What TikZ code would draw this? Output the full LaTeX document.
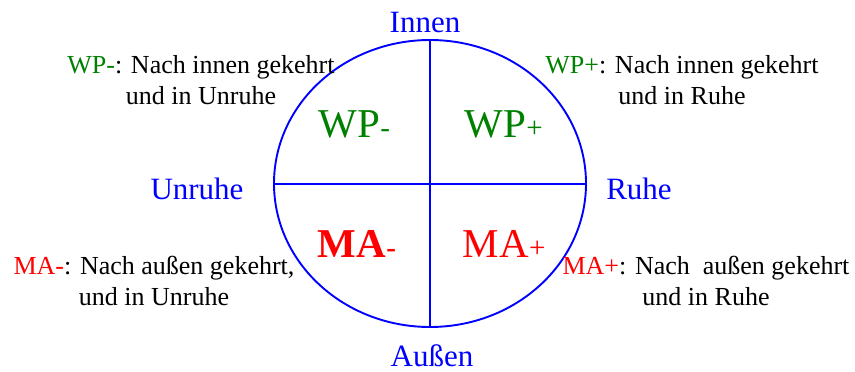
\documentclass[tikz,border=0pt]{standalone}
\usepackage{fontspec}
\setmainfont{Liberation Serif}
\definecolor{axisblue}{HTML}{0000FF}
\definecolor{wpgreen}{HTML}{008000}
\definecolor{mared}{HTML}{FF0000}

\begin{document}
\begin{tikzpicture}[
    x=1pt, y=-1pt,
    line width=1.9pt,
    every node/.style={inner sep=0pt},
    pole/.style={axisblue, font=\fontsize{31}{36}\selectfont, anchor=base},
    quad/.style={font=\fontsize{41}{48}\selectfont, anchor=base west},
    note/.style={font=\fontsize{26}{31}\selectfont, align=center, anchor=north},
  ]
  \useasboundingbox (0,0) rectangle (855,372);

  % ---------- Circle and quadrant axes ------------------------------------
  \coordinate (top)    at (430, 40);
  \coordinate (bottom) at (430, 327);
  \coordinate (left)   at (274, 184);
  \coordinate (right)  at (586, 184);
  \draw[axisblue] (430, 183.5) ellipse [x radius=156, y radius=143.5];
  \draw[axisblue] (left) -- (right);
  \draw[axisblue] (top) -- (bottom);

  % ---------- Poles -------------------------------------------------------
  \node[pole] (innen)  at (425, 32)  {Innen};
  \node[pole] (aussen) at (432, 366) {Außen};
  \node[pole] (unruhe) at (197, 199) {Unruhe};
  \node[pole] (ruhe)   at (639, 199) {Ruhe};

  % ---------- Quadrant labels ---------------------------------------------
  \node[quad, wpgreen] (wpminus) at (318, 137)
    {WP{\fontsize{29}{32}\selectfont-}};
  \node[quad, wpgreen] (wpplus)  at (464, 137)
    {WP{\fontsize{29}{32}\selectfont+}};
  \node[quad, mared, font=\fontsize{41}{48}\selectfont\bfseries] (maminus)
    at (317, 257) {MA{\fontsize{29}{32}\selectfont-}};
  \node[quad, mared] (maplus) at (462, 257)
    {MA{\fontsize{29}{32}\selectfont+}};

  % ---------- Annotations -------------------------------------------------
  \node[note] (wpminusnote) at (201, 55)
    {\textcolor{wpgreen}{WP-}: Nach innen gekehrt\\und in Unruhe};
  \node[note] (wpplusnote) at (682, 55)
    {\textcolor{wpgreen}{WP+}: Nach innen gekehrt\\und in Ruhe};
  \node[note] (maminusnote) at (154, 255)
    {\textcolor{mared}{MA-}: Nach außen gekehrt,\\und in Unruhe};
  \node[note] (maplusnote) at (706, 255)
    {\textcolor{mared}{MA+}: Nach~~außen gekehrt\\und in Ruhe};

\end{tikzpicture}
\end{document}
